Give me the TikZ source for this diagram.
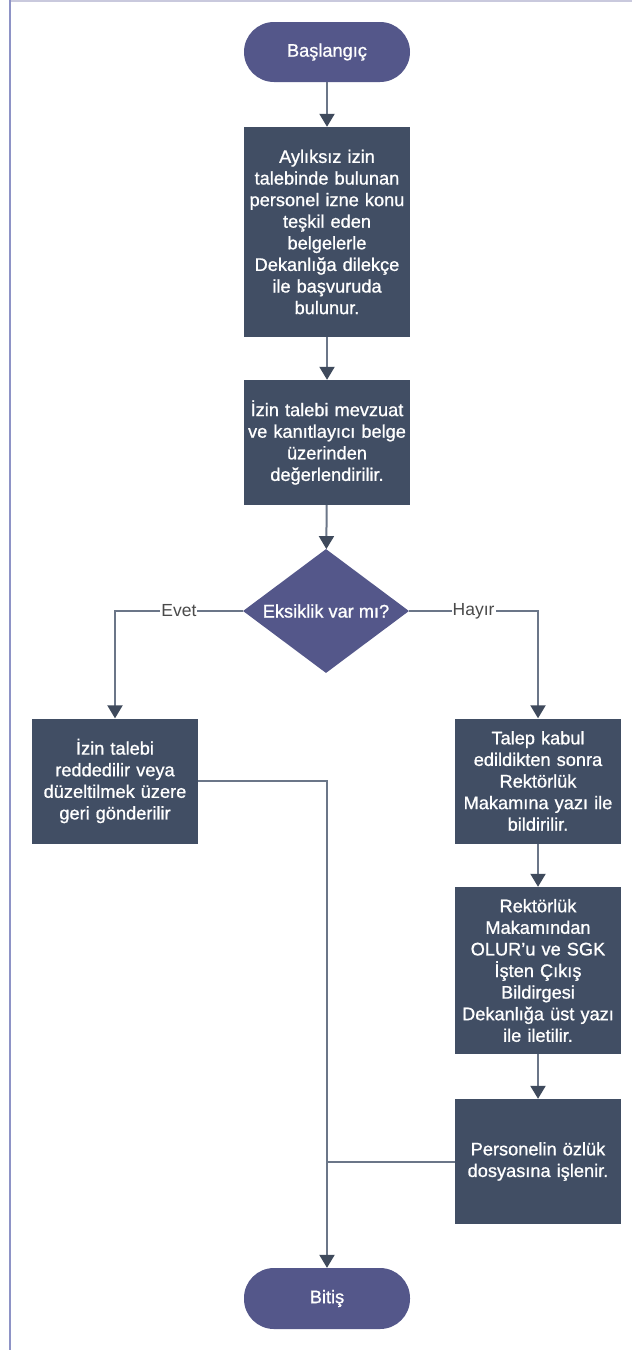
\documentclass[tikz,border=0pt]{standalone}
\usepackage{fontspec}
\setmainfont{Liberation Sans}[BoldFont={Liberation Sans},BoldFeatures={FakeBold=0.9}]
\usetikzlibrary{shapes.geometric,arrows.meta}
\definecolor{termc}{HTML}{54578A}
\definecolor{boxc}{HTML}{414E64}
\definecolor{linec}{HTML}{6B7688}
\definecolor{tipc}{HTML}{3F4A5C}
\definecolor{framel}{HTML}{8E93C6}
\definecolor{framet}{HTML}{C9C9DD}
\definecolor{labc}{HTML}{4A4A4A}
\tikzset{
  txt/.style={text=white,font=\fontsize{18.2}{21.6}\selectfont\bfseries,align=center,inner sep=0pt},
  term/.style={txt,fill=termc,rounded corners=30pt,minimum width=166pt,minimum height=60pt},
  proc/.style={txt,fill=boxc,minimum width=166pt,text width=164pt},
  dec/.style={txt,fill=termc,shape=diamond,aspect=1.4,minimum width=166pt,minimum height=124pt},
  conn/.style={draw=linec,line width=2pt},
  arr/.style={conn,-{Triangle[width=15pt,length=13pt,color=tipc,fill=tipc]}},
  lab/.style={fill=white,text=labc,font=\fontsize{17.5}{20}\selectfont,inner sep=1pt}
}
\begin{document}
\begin{tikzpicture}[x=1pt,y=-1pt]
\useasboundingbox (0,0) rectangle (632,1350);
\fill[white] (0,0) rectangle (632,1350);
\draw[framet,line width=1.5pt] (9,0.75) -- (632,0.75);
\draw[framel,line width=2pt] (9.5,0) -- (9.5,1350);

\node[term] (start) at (327,52) {Başlangıç};
\node[proc,minimum height=210pt] (b1) at (327,232) {Aylıksız izin\\talebinde bulunan\\personel izne konu\\teşkil eden\\belgelerle\\Dekanlığa dilekçe\\ile başvuruda\\bulunur.};
\node[proc,minimum height=125pt] (b2) at (327,442.5) {İzin talebi mevzuat\\ve kanıtlayıcı belge\\üzerinden\\değerlendirilir.};
\node[dec] (d) at (326,611) {Eksiklik var mı?};
\node[proc,minimum height=125pt] (L) at (115,781) {İzin talebi\\reddedilir veya\\düzeltilmek üzere\\geri gönderilir};
\node[proc,minimum height=125pt] (R1) at (538,781) {Talep kabul\\edildikten sonra\\Rektörlük\\Makamına yazı ile\\bildirilir.};
\node[proc,minimum height=167pt] (R2) at (538,970.5) {Rektörlük\\Makamından\\OLUR’u ve SGK\\İşten Çıkış\\Bildirgesi\\Dekanlığa üst yazı\\ile iletilir.};
\node[proc,minimum height=125pt] (R3) at (538,1161.5) {Personelin özlük\\dosyasına işlenir.};
\node[term,minimum height=61pt] (end) at (327,1298.5) {Bitiş};

\coordinate (jl) at (327,781);
\coordinate (jr) at (327,1161.5);

\draw[arr] (start) -- (b1);
\draw[arr] (b1) -- (b2);
\draw[arr] (b2) -- (d);
\draw[arr] (d.west) -| node[lab,pos=0.25] {Evet} (L.north);
\draw[arr] (d.east) -| node[lab,pos=0.25] {Hayır} (R1.north);
\draw[arr] (R1) -- (R2);
\draw[arr] (R2) -- (R3);
\draw[arr] (L.east) -- (jl) -- (end.north);
\draw[conn] (R3.west) -- (jr);
\end{tikzpicture}
\end{document}
